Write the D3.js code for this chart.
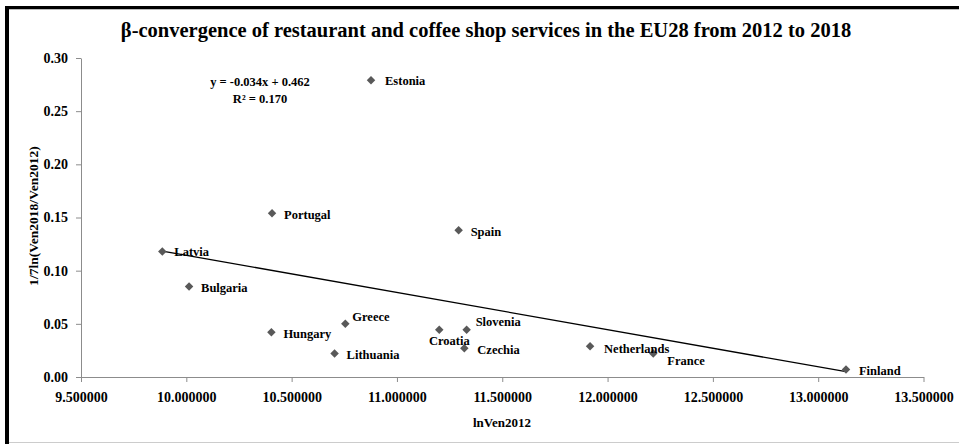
<!DOCTYPE html>
<html>
<head>
<meta charset="utf-8">
<script src="https://cdn.jsdelivr.net/npm/d3@7"></script>
<style>
  body { margin: 0; background: #fff; }
  text { font-family: "Liberation Serif", "Times New Roman", serif; font-weight: bold; fill: #000; }
</style>
</head>
<body>
<svg width="959" height="444"></svg>
<script>
// data
var countries = ["Estonia", "Portugal", "Spain", "Latvia", "Bulgaria", "Hungary", "Greece",
  "Lithuania", "Croatia", "Slovenia", "Czechia", "Netherlands", "France", "Finland"];
var lnVen2012 = [10.877, 10.407, 11.293, 9.886, 10.013, 10.404, 10.755,
  10.704, 11.201, 11.331, 11.320, 11.917, 12.217, 13.132];
var growth = [0.279, 0.154, 0.138, 0.118, 0.085, 0.042, 0.050,
  0.022, 0.0445, 0.0445, 0.027, 0.029, 0.022, 0.007];
var xTicks = [9.5, 10, 10.5, 11, 11.5, 12, 12.5, 13, 13.5];
var yTicks = [0, 0.05, 0.10, 0.15, 0.20, 0.25, 0.30];
var trendText = ["y = -0.034x + 0.462", "R\u00b2 = 0.170"];

// where each label sits relative to its marker (hand placed like in the original)
var labelNudge = {
  Estonia: [14, 0], Portugal: [12, 1], Spain: [12, 1], Latvia: [12, 0], Bulgaria: [12, 1],
  Hungary: [12, 1], Greece: [7, -7], Lithuania: [12, 1], Croatia: [10, 11, "middle"],
  Slovenia: [9, -8], Czechia: [13, 1], Netherlands: [14, 2], France: [14, 7], Finland: [13, 1]
};

var svg = d3.select("svg");

// frame
svg.append("rect").attr("x", 0).attr("y", 0).attr("width", 959).attr("height", 444).attr("fill", "#fff");
svg.append("line").attr("x1", 5).attr("x2", 959).attr("y1", 7.5).attr("y2", 7.5)
  .attr("stroke", "#000").attr("stroke-width", 3);
svg.append("line").attr("x1", 7).attr("x2", 7).attr("y1", 6).attr("y2", 444)
  .attr("stroke", "#000").attr("stroke-width", 4);
svg.append("line").attr("x1", 9).attr("x2", 959).attr("y1", 9.5).attr("y2", 9.5)
  .attr("stroke", "#bbb").attr("stroke-width", 1);
svg.append("line").attr("x1", 9).attr("x2", 959).attr("y1", 442.5).attr("y2", 442.5)
  .attr("stroke", "#ccc").attr("stroke-width", 1);

var x = d3.scaleLinear().domain([9.5, 13.5]).range([81, 923.5]);
var y = d3.scaleLinear().domain([0, 0.30]).range([377, 58]);

var gx = svg.append("g").attr("transform", "translate(0,377)")
  .call(d3.axisBottom(x).tickValues(xTicks).tickSize(5).tickSizeOuter(0).tickPadding(10)
    .tickFormat(d3.format(".6f")));
var gy = svg.append("g").attr("transform", "translate(81,0)")
  .call(d3.axisLeft(y).tickValues(yTicks).tickSize(5).tickSizeOuter(0).tickPadding(8)
    .tickFormat(d3.format(".2f")));
[gx, gy].forEach(function(g) {
  g.select(".domain").attr("stroke", "#8c8c8c");
  g.selectAll(".tick line").attr("stroke", "#8c8c8c");
  g.selectAll(".tick text").attr("fill", "#000").style("font-size", "14px")
    .style("font-family", "Liberation Serif").style("font-weight", "bold");
});

// least squares trend line
var mx = d3.mean(lnVen2012), my = d3.mean(growth);
var sxy = d3.sum(lnVen2012, function(v, i) { return (v - mx) * (growth[i] - my); });
var sxx = d3.sum(lnVen2012, function(v) { return (v - mx) * (v - mx); });
var slope = sxy / sxx, intercept = my - slope * mx;
var xe = d3.extent(lnVen2012);
svg.append("line")
  .attr("x1", x(xe[0])).attr("y1", y(slope * xe[0] + intercept))
  .attr("x2", x(xe[1])).attr("y2", y(slope * xe[1] + intercept))
  .attr("stroke", "#000").attr("stroke-width", 1.3);

var pts = countries.map(function(c, i) { return { name: c, x: lnVen2012[i], y: growth[i] }; });

svg.selectAll("path.pt").data(pts).enter().append("path")
  .attr("class", "pt")
  .attr("d", d3.symbol().type(d3.symbolSquare).size(36))
  .attr("transform", function(d) { return "translate(" + x(d.x) + "," + y(d.y) + ") rotate(45)"; })
  .attr("fill", "#595959");

svg.selectAll("text.lab").data(pts).enter().append("text")
  .attr("class", "lab")
  .attr("x", function(d) { return x(d.x) + labelNudge[d.name][0]; })
  .attr("y", function(d) { return y(d.y) + labelNudge[d.name][1]; })
  .attr("dy", "0.35em")
  .attr("text-anchor", function(d) { return labelNudge[d.name][2] || "start"; })
  .style("font-size", "12.5px")
  .text(function(d) { return d.name; });

// equation
svg.selectAll("text.eq").data(trendText).enter().append("text")
  .attr("class", "eq")
  .attr("x", 260).attr("y", function(d, i) { return 86 + i * 17; })
  .attr("text-anchor", "middle").style("font-size", "12.5px")
  .text(function(d) { return d; });

// titles
svg.append("text").attr("x", 486).attr("y", 37).attr("text-anchor", "middle").style("font-size", "20.5px")
  .text("\u03b2-convergence of restaurant and coffee shop services in the EU28 from 2012 to 2018");
svg.append("text").attr("x", 502).attr("y", 427).attr("text-anchor", "middle").style("font-size", "13px")
  .text("lnVen2012");
svg.append("text").attr("transform", "translate(38,216) rotate(-90)").attr("text-anchor", "middle")
  .style("font-size", "13.5px")
  .text("1/7ln(Ven2018/Ven2012)");
</script>
</body>
</html>
